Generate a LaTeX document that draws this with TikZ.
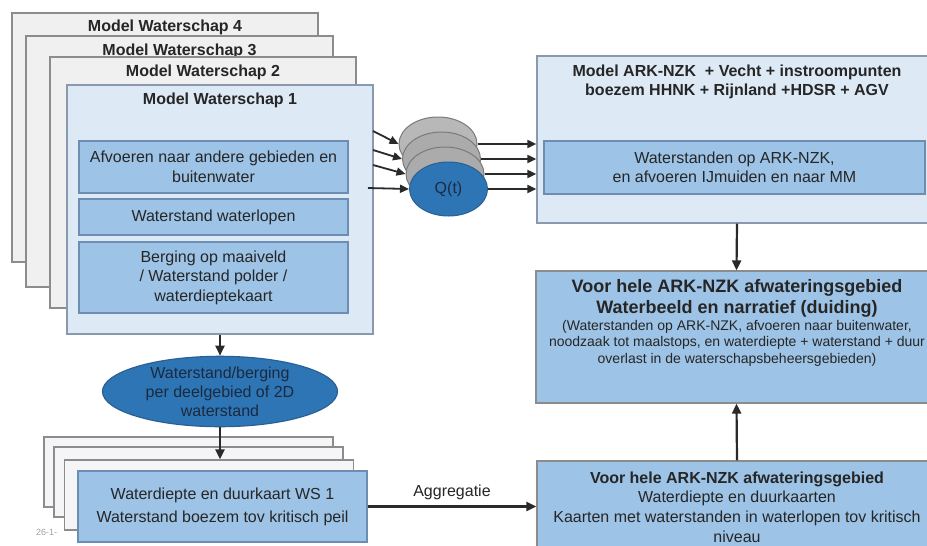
\documentclass[tikz,border=0pt]{standalone}
\usepackage{fontspec}
\setmainfont{Liberation Sans}
\usetikzlibrary{arrows.meta,shapes.geometric}
\definecolor{txt}{HTML}{262626}
\definecolor{greyfill}{HTML}{F0F0F0}
\definecolor{stackfill}{HTML}{F5F5F8}
\definecolor{greyline}{HTML}{8C8C8C}
\definecolor{paleblue}{HTML}{DDEAF6}
\definecolor{paleline}{HTML}{8A9AAE}
\definecolor{midblue}{HTML}{9DC3E6}
\definecolor{midline}{HTML}{6E8DB2}
\definecolor{darkblue}{HTML}{2E75B6}
\definecolor{darkline}{HTML}{2A5F94}
\definecolor{elltxt}{HTML}{1B2A3E}
\definecolor{qgrey}{HTML}{ABABAB}
\definecolor{qline}{HTML}{7A7A7A}
\definecolor{arr}{HTML}{2A2A2A}
\definecolor{datec}{HTML}{A0A0A0}
\newcommand\fsz[2]{\fontsize{#1}{#2}\selectfont}
\begin{document}
\begin{tikzpicture}[x=1pt,y=-1pt,
  every node/.style={text=txt},
  greybox/.style={draw=greyline, fill=greyfill, line width=1.2pt, inner sep=0pt},
  palebox/.style={draw=paleline, fill=paleblue, line width=1.2pt, inner sep=0pt},
  bluebox/.style={draw=greyline, fill=midblue, line width=1.2pt, inner sep=0pt},
  innerbox/.style={draw=midline, fill=midblue, line width=1.2pt, inner sep=0pt,
    minimum width=269pt, align=center, font=\fsz{16}{19.5}},
  stackbox/.style={draw=greyline, fill=stackfill, line width=1.2pt, inner sep=0pt,
    minimum width=289pt, minimum height=70pt},
  ttl/.style={inner sep=0pt, font=\fsz{16}{19}\bfseries},
  qell/.style={ellipse, draw=qline, fill=qgrey, line width=1pt, minimum width=78pt,
    minimum height=54pt, inner sep=0pt},
  conn/.style={draw=arr, line width=2.2pt, -{Triangle[length=10pt,width=9pt]}},
  qconn/.style={draw=arr, line width=1.8pt, -{Triangle[length=9pt,width=8pt]}}
]
\useasboundingbox (0,0) rectangle (927,546);
\fill[white] (0,0) rectangle (927,546);
\clip (0,0) rectangle (927,546);

% stacked model boxes
\node[greybox, minimum width=306pt, minimum height=249pt] (ws4) at (165,137.5) {};
\node[ttl, anchor=base] (t4) at (165,31.5) {Model Waterschap 4};
\node[greybox, minimum width=307pt, minimum height=251pt] (ws3) at (179.5,161.5) {};
\node[ttl, anchor=base] (t3) at (179.5,55.5) {Model Waterschap 3};
\node[greybox, minimum width=306pt, minimum height=251pt] (ws2) at (203,182.5) {};
\node[ttl, anchor=base] (t2) at (203,76.5) {Model Waterschap 2};
\node[palebox, minimum width=306pt, minimum height=249pt] (ws1) at (220,209.5) {};
\node[ttl, anchor=base] (t1) at (220,104) {Model Waterschap 1};

\node[innerbox, minimum height=52pt] (afv) at (213.5,167) {Afvoeren naar andere gebieden en\\buitenwater};
\node[innerbox, minimum height=36pt] (wsl) at (213.5,217) {Waterstand waterlopen};
\node[innerbox, minimum height=71pt] (berg) at (213.5,277.5) {Berging op maaiveld\\/ Waterstand polder /\\waterdieptekaart};

% ellipse
\node[ellipse, draw=darkline, fill=darkblue, line width=1.2pt, minimum width=235pt,
  minimum height=61pt, inner sep=0pt, align=center, font=\fsz{16}{19}, text=elltxt]
  (ell) at (220,391.5) {Waterstand/berging\\per deelgebied of 2D\\waterstand};

% lower stack
\node[stackbox] (b1) at (188.5,472) {};
\node[stackbox] (b2) at (198.5,482) {};
\node[stackbox] (b3) at (209,495) {};
\node[anchor=base west, inner sep=0pt, font=\fsz{9}{10}, text=datec] (date) at (36,535) {26-1-};
\node[draw=midline, fill=midblue, line width=1.2pt, inner sep=0pt, minimum width=289pt,
  minimum height=71pt, align=center, font=\fsz{16}{23}] (front) at (222.5,506.5)
  {Waterdiepte en duurkaart WS 1\\Waterstand boezem tov kritisch peil};

% right column
\node[palebox, minimum width=400pt, minimum height=167pt] (top) at (737,139.5) {};
\node[ttl, anchor=north, align=center] (toptxt) at (737,64.3)
  {Model ARK-NZK~ + Vecht + instroompunten\\boezem HHNK + Rijnland +HDSR + AGV};
\node[innerbox, minimum width=381pt, minimum height=53pt] (arkw) at (734.5,167.5)
  {Waterstanden op ARK-NZK,\\en afvoeren IJmuiden en naar MM};

\node[bluebox, minimum width=401pt, minimum height=132pt] (mid) at (736.5,337) {};
\node[anchor=north, align=center, inner sep=0pt, font=\fsz{18}{21}\bfseries] (midttl) at (737,279)
  {Voor hele ARK-NZK afwateringsgebied\\Waterbeeld en narratief (duiding)};
\node[anchor=north, align=center, inner sep=0pt, font=\fsz{14}{16.5}] (midsub) at (737,320)
  {(Waterstanden op ARK-NZK, afvoeren naar buitenwater,\\noodzaak tot maalstops, en waterdiepte + waterstand + duur\\overlast in de waterschapsbeheersgebieden)};

\node[bluebox, minimum width=400pt, minimum height=100pt] (bot) at (737,511) {};
\node[anchor=north, inner sep=0pt, font=\fsz{16}{19}\bfseries] (botttl) at (737,471.3)
  {Voor hele ARK-NZK afwateringsgebied};
\node[anchor=north, align=center, inner sep=0pt, font=\fsz{16}{20}] (botsub) at (737,490.3)
  {Waterdiepte en duurkaarten\\Kaarten met waterstanden in waterlopen tov kritisch\\niveau};

% Q(t) stack
\node[qell, fill=qgrey!85!white] (q1) at (438,144) {};
\node[qell] (q2) at (441.5,159) {};
\node[qell] (q3) at (445,174) {};
\node[qell, fill=darkblue, draw=darkline, font=\fsz{16}{19}, text=elltxt] (q4) at (448.5,189) {Q(t)};

\coordinate (i1) at (373,131);
\coordinate (i2) at (373,150);
\coordinate (i3) at (373,165);
\coordinate (i4) at (368,188);
\draw[qconn] (i1) -- (q1.west);
\draw[qconn] (i2) -- (q2.west);
\draw[qconn] (i3) -- (q3.west);
\draw[qconn] (i4) -- (q4.west);
\draw[qconn] (q1.east) -- (q1.east -| top.west);
\draw[qconn] (q2.east) -- (q2.east -| top.west);
\draw[qconn] (q3.east) -- (q3.east -| top.west);
\draw[qconn] (q4.east) -- (q4.east -| top.west);

% connectors
\draw[conn] (ws1.south) -- (ell.north);
\draw[conn] (ell.south) -- (ell.south |- b3.north);
\draw[conn] (front.east) -- (front.east -| bot.west)
  node[midway, above=6pt, inner sep=0pt, font=\fsz{16}{19}] (agg) {Aggregatie};
\draw[conn] (top.south) -- (mid.north);
\draw[conn] (bot.north) -- (mid.south);
\end{tikzpicture}
\end{document}
